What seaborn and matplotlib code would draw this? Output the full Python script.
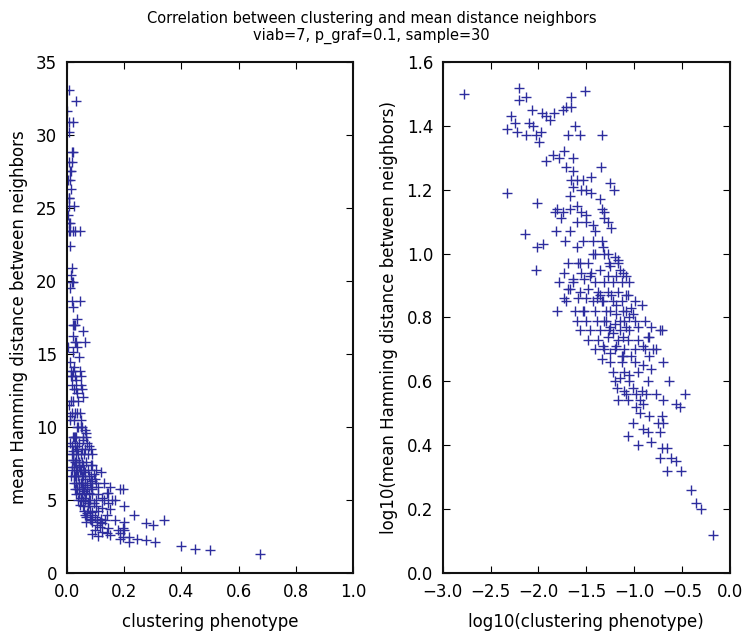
import numpy as np
import pandas as pd
import matplotlib
matplotlib.use("Agg")
import matplotlib.pyplot as plt
import seaborn as sns

# log10 values (x: clustering, y: mean Hamming distance)
# upper part of the cloud
top_x = [
    -2.78, -2.20, -2.20, -2.13, -2.29, -2.24, -2.33, -2.22, -2.13, -2.07,
    -2.10, -2.06, -2.03, -1.97, -1.99, -1.96, -1.92, -1.88, -1.84, -1.85,
    -1.92, -2.33, -2.01, -1.81, -1.83,
    -1.74, -1.71, -1.66, -1.66, -1.51, -1.62, -1.69, -1.56, -1.78, -1.73,
    -1.64, -1.71, -1.64, -1.66, -1.60, -1.53, -1.64, -1.67, -1.55, -1.50,
    -1.74, -1.76, -1.67, -1.60, -1.55, -1.50,
    -1.33, -1.35, -1.45, -1.25, -1.21, -1.45, -1.36, -1.34, -1.31, -1.31,
    -2.14, -1.82, -2.02, -1.95, -2.03,
    -1.60, -1.50, -1.43, -1.27, -1.67, -1.41, -1.24, -1.72, -1.53, -1.43,
    -1.34, -1.60, -1.32,
]
top_y = [
    1.50, 1.52, 1.48, 1.49, 1.43, 1.41, 1.39, 1.38, 1.37, 1.45,
    1.41, 1.40, 1.37, 1.38, 1.35, 1.44, 1.43, 1.42, 1.44, 1.31,
    1.29, 1.19, 1.16, 1.14, 1.13,
    1.45, 1.46, 1.49, 1.46, 1.51, 1.40, 1.37, 1.37, 1.30, 1.32,
    1.30, 1.27, 1.26, 1.23, 1.23, 1.23, 1.21, 1.18, 1.20, 1.20,
    1.13, 1.11, 1.14, 1.15, 1.13, 1.12,
    1.37, 1.27, 1.24, 1.22, 1.20, 1.19, 1.17, 1.14, 1.13, 1.11,
    1.06, 1.07, 1.02, 1.03, 0.95,
    1.10, 1.10, 1.09, 1.10, 1.07, 1.07, 1.08, 1.04, 1.04, 1.04,
    1.04, 1.02, 1.02,
]
# dense core
core_x = [
    -1.69, -1.59, -1.48, -1.41, -1.31, -1.26, -1.17, -1.73, -1.55, -1.45,
    -1.36, -1.27, -1.19, -1.12, -1.78, -1.64, -1.52, -1.41, -1.31, -1.22,
    -1.13, -1.05, -1.69, -1.57, -1.48, -1.38, -1.27, -1.17, -1.06, -1.71,
    -1.59, -1.50, -1.39, -1.33, -1.22, -1.13, -0.99, -0.92, -1.81, -1.62,
    -1.52, -1.41, -1.29, -1.19, -1.08, -1.01, -1.60, -1.50, -1.39, -1.31,
    -1.20, -1.10, -0.99, -0.89, -1.57, -1.46, -1.36, -1.26, -1.15, -1.05,
    -0.96, -0.82, -0.73, -1.48, -1.38, -1.27, -1.17, -1.06, -0.96, -0.85,
    -1.41, -1.31, -1.20, -1.10, -0.99, -0.89, -0.80, -1.34, -1.13, -1.03,
    -1.43, -1.27, -1.20, -1.17, -1.57, -1.25, -1.15, -1.46, -1.08, -1.64,
    -1.67, -1.36, -1.24, -1.08, -1.73, -1.43, -1.32, -1.19, -1.03, -1.53,
    -1.25, -1.12, -1.29, -1.15, -1.05, -0.71, -1.25, -1.08, -1.22, -1.12,
    -0.84, -1.32, -1.19, -0.91, -0.77, -1.25, -1.12, -0.84,
]
core_y = [
    0.97, 0.97, 0.97, 1.00, 1.00, 0.97, 0.97, 0.94, 0.94, 0.94,
    0.95, 0.93, 0.93, 0.94, 0.91, 0.91, 0.92, 0.91, 0.91, 0.91,
    0.91, 0.91, 0.89, 0.88, 0.89, 0.88, 0.88, 0.88, 0.87, 0.85,
    0.86, 0.86, 0.86, 0.85, 0.85, 0.85, 0.85, 0.84, 0.82, 0.82,
    0.82, 0.82, 0.82, 0.81, 0.82, 0.81, 0.79, 0.79, 0.79, 0.79,
    0.78, 0.79, 0.79, 0.79, 0.76, 0.76, 0.76, 0.76, 0.76, 0.76,
    0.77, 0.77, 0.76, 0.73, 0.73, 0.74, 0.73, 0.73, 0.73, 0.74,
    0.70, 0.70, 0.70, 0.70, 0.70, 0.70, 0.70, 0.67, 0.68, 0.68,
    1.00, 1.00, 0.99, 0.98, 0.97, 0.96, 0.95, 0.93, 0.93, 0.92,
    0.89, 0.87, 0.87, 0.87, 0.86, 0.85, 0.85, 0.84, 0.83, 0.82,
    0.82, 0.82, 0.79, 0.79, 0.80, 0.76, 0.77, 0.77, 0.75, 0.74,
    0.74, 0.71, 0.71, 0.71, 0.70, 0.69, 0.68, 0.68,
]
# lower tail
tail_x = [
    -0.70, -1.25, -1.13, -0.99, -0.91, -0.82, -1.22, -1.10, -0.96, -1.15,
    -1.05,
    -1.20, -1.05, -0.85, -0.63, -1.18, -1.10, -1.01, -0.92, -1.08, -0.98,
    -0.87, -0.77, -0.70, -0.47, -1.17, -1.06, -0.94, -0.56, -0.52, -0.98,
    -0.91, -0.94, -0.84, -0.71, -1.01, -0.91, -0.85, -0.73, -0.70, -0.75,
    -1.06, -0.96, -0.82, -0.71, -0.66, -0.73, -0.61, -0.56, -0.66, -0.51,
    -0.40, -0.35, -0.30, -0.17,
]
tail_y = [
    0.66, 0.66, 0.66, 0.66, 0.65, 0.64, 0.63, 0.63, 0.63, 0.61,
    0.62,
    0.60, 0.60, 0.60, 0.60, 0.58, 0.57, 0.58, 0.57, 0.56, 0.56,
    0.56, 0.56, 0.54, 0.56, 0.54, 0.54, 0.54, 0.53, 0.52, 0.52,
    0.53, 0.50, 0.49, 0.49, 0.47, 0.45, 0.44, 0.44, 0.47, 0.47,
    0.43, 0.40, 0.41, 0.39, 0.39, 0.36, 0.36, 0.35, 0.32, 0.32,
    0.26, 0.22, 0.20, 0.12,
]

df = pd.DataFrame({"lx": top_x + core_x + tail_x, "ly": top_y + core_y + tail_y})
df["clust"] = 10 ** df["lx"]
df["dist"] = 10 ** df["ly"]

sns.set_theme(style="ticks")
plt.rcParams["font.family"] = ["DejaVu Sans"]
plt.rcParams["xtick.direction"] = "in"
plt.rcParams["ytick.direction"] = "in"
plt.rcParams["xtick.top"] = True
plt.rcParams["ytick.right"] = True
plt.rcParams["text.color"] = "black"
plt.rcParams["axes.labelcolor"] = "black"
plt.rcParams["xtick.color"] = "black"
plt.rcParams["ytick.color"] = "black"


def fmt1(v, pos):
    return f"{v:.1f}".replace("-", "\u2212")


col = "#2d2d9e"
fig = plt.figure(figsize=(7.43, 6.33), dpi=100)
ax1 = fig.add_axes([0.090, 0.095, 0.385, 0.807])
ax2 = fig.add_axes([0.596, 0.095, 0.386, 0.807])

sns.scatterplot(data=df, x="clust", y="dist", ax=ax1, marker="+",
                color=col, s=55, linewidth=1.0)
sns.scatterplot(data=df, x="lx", y="ly", ax=ax2, marker="+",
                color=col, s=55, linewidth=1.0)

ax1.set_xlim(0, 1.0)
ax1.set_ylim(0, 35)
ax1.set_xticks(np.arange(0, 1.01, 0.2))
ax1.set_yticks(np.arange(0, 36, 5))
ax1.set_xlabel("clustering phenotype", fontsize=12, labelpad=9)
ax1.set_ylabel("mean Hamming distance between neighbors", fontsize=12, labelpad=6)

ax2.set_xlim(-3.0, 0.0)
ax2.set_ylim(0, 1.6)
ax2.set_xticks(np.arange(-3.0, 0.01, 0.5))
ax2.set_yticks(np.arange(0, 1.61, 0.2))
ax2.set_xlabel("log10(clustering phenotype)", fontsize=12, labelpad=9)
ax2.set_ylabel("log10(mean Hamming distance between neighbors)", fontsize=12, labelpad=6)

for ax in (ax1, ax2):
    ax.xaxis.set_major_formatter(matplotlib.ticker.FuncFormatter(fmt1))
    ax.tick_params(labelsize=12, length=5, width=0.8, pad=7)
    for s in ax.spines.values():
        s.set_linewidth(1.5)
        s.set_color("#111111")
ax1.yaxis.set_major_formatter(matplotlib.ticker.FormatStrFormatter("%d"))
ax2.yaxis.set_major_formatter(matplotlib.ticker.FuncFormatter(fmt1))

fig.suptitle("Correlation between clustering and mean distance neighbors\n"
             "viab=7, p_graf=0.1, sample=30", fontsize=10.5, y=0.983)

fig.savefig("out.png", dpi=100)
